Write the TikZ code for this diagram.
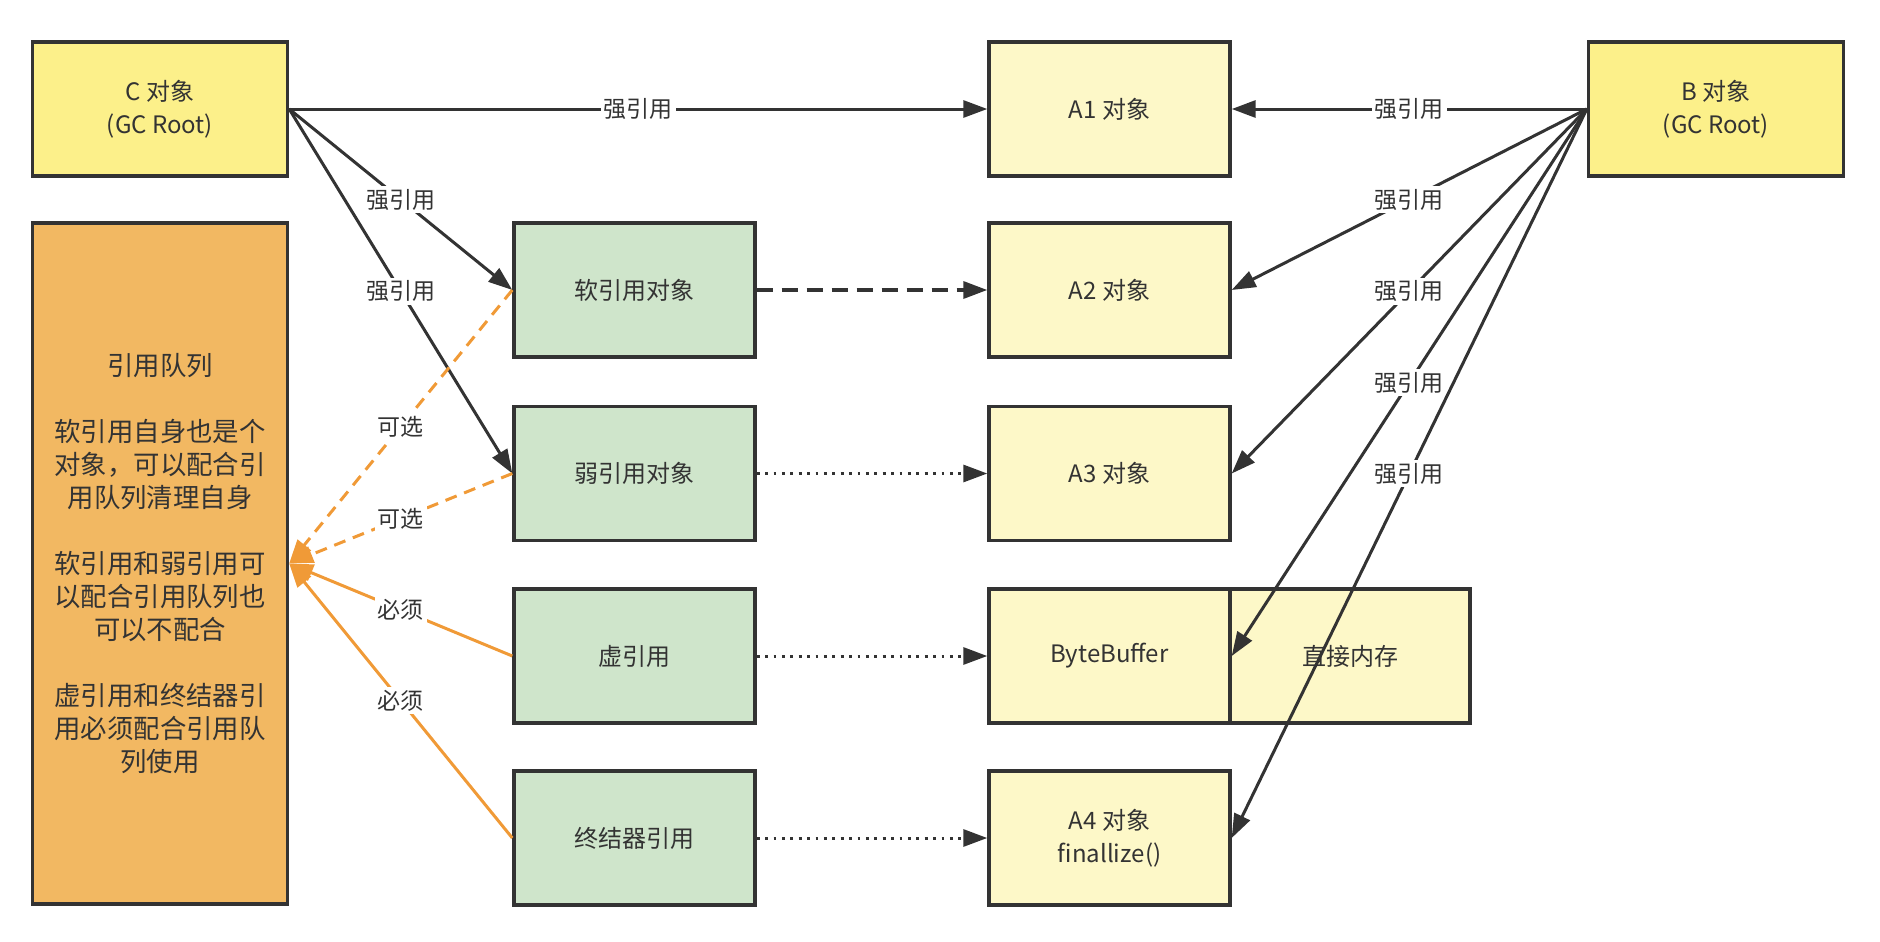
\documentclass[tikz,border=0pt]{standalone}
\usepackage{fontspec}
\setmainfont{Noto Sans CJK SC}
\usetikzlibrary{arrows.meta}
\definecolor{ink}{HTML}{333333}
\definecolor{rootY}{HTML}{FCF08A}
\definecolor{objY}{HTML}{FDF8C8}
\definecolor{refG}{HTML}{CFE5CB}
\definecolor{queueO}{HTML}{F2B862}
\definecolor{arrO}{HTML}{F09A37}
\begin{document}
\begin{tikzpicture}[x=0.5pt,y=-0.5pt,
  box/.style={draw=ink, line width=1.7pt, text=ink, align=center,
    font=\fontsize{12}{16.5}\selectfont, inner sep=0pt,
    minimum width=120.5pt, minimum height=67pt},
  rootbox/.style={box, fill=rootY, minimum width=127.5pt},
  objbox/.style={box, fill=objY},
  refbox/.style={box, fill=refG},
  lbl/.style={fill=white, text=ink, font=\fontsize{11.5}{13}\selectfont, inner sep=1.5pt},
  tip/.style={-{Triangle[length=12pt,width=8.5pt]}},
  strong/.style={draw=ink, line width=1.5pt, tip},
  softline/.style={draw=ink, line width=1.7pt, dash pattern=on 8pt off 4.5pt, tip},
  dotline/.style={draw=ink, line width=1.5pt, dash pattern=on 1.4pt off 2.8pt, tip},
  optline/.style={draw=arrO, line width=1.5pt, dash pattern=on 6pt off 4pt, tip},
  mustline/.style={draw=arrO, line width=1.5pt, tip}
]
\useasboundingbox (0,0) rectangle (1880,942);
% nodes
\node[rootbox] (C) at (160,109) {C 对象\\(GC Root)};
\node[box, fill=queueO, minimum width=127.5pt, minimum height=340.5pt,
  font=\fontsize{13.2}{16.5}\selectfont] (Q) at (160,563.5)
  {引用队列\\[16.5pt]软引用自身也是个\\对象，可以配合引\\用队列清理自身\\[16.5pt]软引用和弱引用可\\以配合引用队列也\\可以不配合\\[16.5pt]虚引用和终结器引\\用必须配合引用队\\列使用};
\node[objbox] (A1) at (1109.5,109) {A1 对象};
\node[rootbox] (B) at (1716,109) {B 对象\\(GC Root)};
\node[refbox] (S) at (634.5,290) {软引用对象};
\node[objbox] (A2) at (1109.5,290) {A2 对象};
\node[refbox] (W) at (634.5,473.5) {弱引用对象};
\node[objbox] (A3) at (1109.5,473.5) {A3 对象};
\node[refbox] (P) at (634.5,656) {虚引用};
\node[objbox] (BB) at (1109.5,656) {ByteBuffer};
\node[objbox, minimum width=120pt] (D) at (1350,656) {直接内存};
\node[refbox] (F) at (634.5,838) {终结器引用};
\node[objbox] (A4) at (1109.5,838) {A4 对象\\finallize()};
% strong references
\draw[strong] (C.east) -- node[lbl] {强引用} (A1.west);
\draw[strong] (C.east) -- node[lbl] {强引用} (S.west);
\draw[strong] (C.east) -- node[lbl] {强引用} (W.west);
\draw[strong] (B.west) -- node[lbl] {强引用} (A1.east);
\draw[strong] (B.west) -- node[lbl] {强引用} (A2.east);
\draw[strong] (B.west) -- node[lbl] {强引用} (A3.east);
\draw[strong] (B.west) -- node[lbl] {强引用} (BB.east);
\draw[strong] (B.west) -- node[lbl] {强引用} (A4.east);
% reference objects to referents
\draw[softline] (S.east) -- (A2.west);
\draw[dotline] (W.east) -- (A3.west);
\draw[dotline] (P.east) -- (BB.west);
\draw[dotline] (F.east) -- (A4.west);
% queue
\draw[optline] (S.west) -- node[lbl] {可选} (Q.east);
\draw[optline] (W.west) -- node[lbl] {可选} (Q.east);
\draw[mustline] (P.west) -- node[lbl] {必须} (Q.east);
\draw[mustline] (F.west) -- node[lbl] {必须} (Q.east);
\end{tikzpicture}
\end{document}
